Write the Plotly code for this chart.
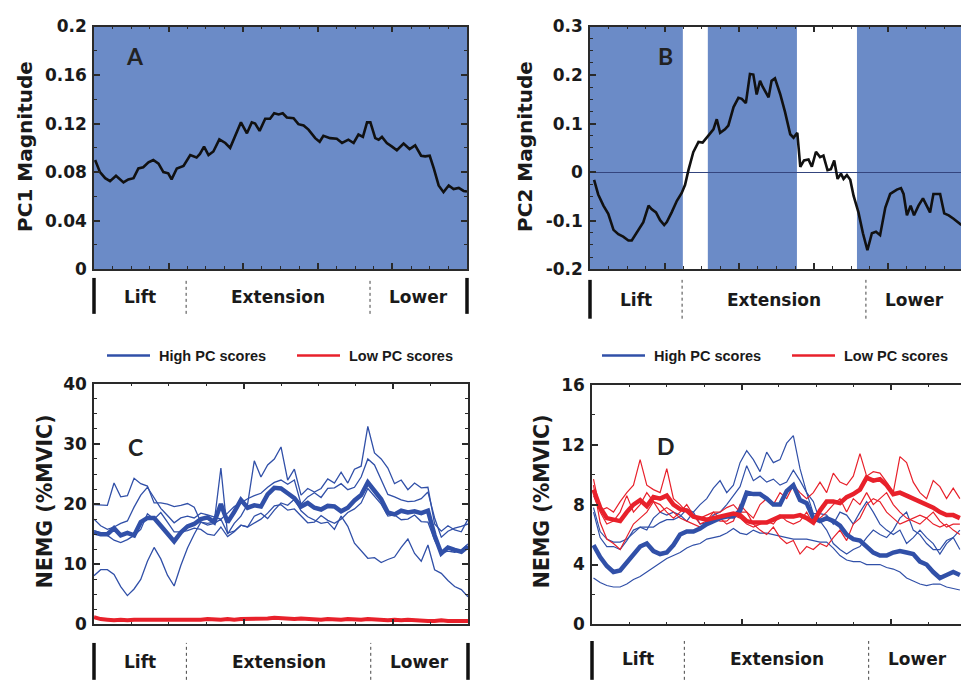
import numpy as np
import plotly.graph_objects as go

# ---------------- data ----------------
# Panel A: PC1 magnitude vs % of lifting cycle
A_X = [0.3, 1.6, 3.0, 4.3, 5.9, 7.9, 9.2, 10.6, 11.9, 13.2, 14.6, 15.9, 17.3, 18.6, 19.9, 20.8, 22.2, 24.0, 25.8, 27.5,
       28.4, 29.5, 30.7, 32.0, 33.6, 35.2, 36.5, 37.8, 39.4, 41.0, 42.3, 43.2, 44.4, 45.9, 47.2, 48.3, 49.5, 50.6, 51.7, 53.5,
       54.8, 56.2, 57.5, 59.3, 60.5, 61.5, 63.3, 65.1, 66.5, 68.2, 69.6, 70.9, 72.1, 73.2, 74.1, 75.4, 76.3, 77.2, 78.5, 79.9,
       81.2, 83.0, 84.6, 86.1, 87.7, 88.8, 90.0, 91.1, 92.4, 93.7, 95.1, 96.4, 97.8, 99.1, 100]
A_Y = [0.090, 0.080, 0.075, 0.0725, 0.077, 0.0715, 0.074, 0.075, 0.083, 0.084, 0.088, 0.090, 0.087, 0.080, 0.079, 0.074, 0.083, 0.085, 0.094, 0.092,
       0.095, 0.101, 0.094, 0.097, 0.107, 0.104, 0.100, 0.109, 0.121, 0.112, 0.121, 0.120, 0.114, 0.124, 0.124, 0.1285, 0.1275, 0.1285, 0.125, 0.1245,
       0.1195, 0.1185, 0.115, 0.108, 0.105, 0.110, 0.108, 0.1075, 0.104, 0.1067, 0.104, 0.111, 0.109, 0.121, 0.121, 0.108, 0.1067, 0.109, 0.104, 0.101,
       0.098, 0.1035, 0.099, 0.102, 0.0935, 0.093, 0.0935, 0.083, 0.069, 0.0635, 0.069, 0.066, 0.067, 0.0645, 0.064]

# Panel B: PC2 magnitude
B_X = [1.1, 2.2, 3.6, 4.9, 6.3, 7.6, 8.9, 10.3, 11.2, 12.5, 14.3, 15.7, 16.5, 17.7, 18.8, 19.9, 20.6, 21.9, 23.3, 24.6,
       25.5, 26.4, 27.7, 29.1, 30.2, 31.3, 32.2, 33.1, 34.0, 34.9, 36.2, 37.1, 38.5, 39.8, 40.7, 41.8, 42.9, 43.8, 44.7, 45.6,
       46.3, 47.9, 48.7, 49.6, 51.0, 52.3, 53.7, 54.6, 55.6, 56.4, 57.4, 58.6, 59.5, 60.6, 61.7, 62.6, 63.7, 64.6, 65.5, 66.4,
       67.3, 68.0, 68.9, 69.8, 70.7, 72.0, 73.2, 74.4, 75.6, 76.7, 77.8, 79.2, 80.5, 82.3, 83.4, 84.1, 85.0, 86.0, 86.9, 88.1,
       89.3, 90.2, 91.2, 92.1, 93.9, 95.0, 96.2, 97.5, 99.6]
B_Y = [-0.016, -0.046, -0.069, -0.086, -0.119, -0.128, -0.133, -0.141, -0.141, -0.126, -0.103, -0.069, -0.076, -0.083, -0.099, -0.109, -0.103, -0.083, -0.059, -0.043,
       -0.026, 0.004, 0.041, 0.062, 0.061, 0.071, 0.080, 0.088, 0.109, 0.081, 0.088, 0.096, 0.134, 0.153, 0.151, 0.142, 0.202, 0.201, 0.160, 0.188,
       0.176, 0.154, 0.188, 0.193, 0.161, 0.124, 0.078, 0.071, 0.081, 0.011, 0.024, 0.026, 0.011, 0.042, 0.031, 0.034, 0.004, 0.006, 0.024, -0.014,
       -0.003, -0.014, -0.006, -0.016, -0.049, -0.083, -0.126, -0.161, -0.126, -0.123, -0.130, -0.073, -0.045, -0.036, -0.033, -0.045, -0.089, -0.069, -0.089, -0.069,
       -0.054, -0.069, -0.083, -0.045, -0.045, -0.085, -0.089, -0.096, -0.109]
B_WHITE_BANDS = [(24.9, 31.6), (55.5, 71.6)]

# Panel C: NEMG (%MVIC), samples evenly spaced over 0-100 % of cycle
C_MEAN_HIGH = [15.3, 15.0, 15.0, 16.0, 14.8, 15.2, 14.8, 17.0, 17.7, 17.7, 16.4, 15.1, 13.8, 15.3, 16.3, 16.7, 17.5, 17.8, 17.0, 20.0,
               17.0, 18.7, 20.7, 19.4, 19.8, 19.6, 21.6, 22.7, 22.6, 21.8, 21.0, 19.6, 20.2, 19.4, 19.1, 19.7, 19.6, 18.8, 19.4, 20.6,
               21.5, 23.6, 22.2, 20.8, 18.6, 18.3, 18.9, 18.6, 18.8, 18.5, 18.9, 14.8, 11.8, 12.8, 12.4, 12.1, 13.0]
C_HIGH_1 = [19.9, 19.8, 19.8, 23.5, 21.2, 21.4, 24.3, 23.4, 23.0, 20.2, 20.2, 20.0, 19.6, 19.8, 20.1, 19.5, 17.0, 16.8, 17.0, 26.0,
            15.0, 16.8, 18.0, 20.0, 27.2, 24.5, 26.5, 27.5, 29.5, 24.0, 25.8, 21.5, 22.6, 22.0, 22.6, 24.2, 23.5, 25.3, 23.5, 25.8,
            26.3, 32.9, 28.5, 27.5, 26.0, 23.4, 24.0, 22.4, 23.5, 22.7, 22.8, 16.7, 15.5, 16.4, 15.7, 15.4, 17.5]
C_HIGH_2 = [8.1, 9.1, 9.1, 8.3, 6.3, 4.8, 5.9, 7.5, 10.5, 12.8, 10.9, 8.2, 6.4, 9.8, 12.7, 15.0, 17.0, 16.5, 16.8, 17.5,
            15.2, 15.5, 16.5, 16.2, 18.0, 18.5, 17.6, 19.0, 20.2, 19.8, 20.8, 18.9, 17.9, 17.3, 16.8, 17.0, 15.8, 18.0, 16.3, 13.5,
            12.2, 11.0, 11.1, 10.3, 10.8, 11.2, 12.8, 14.2, 11.8, 10.5, 13.2, 9.1, 8.5, 7.3, 6.3, 5.8, 4.6]
C_HIGH_3 = [17.5, 16.4, 15.8, 16.2, 16.8, 17.2, 19.5, 21.5, 22.8, 21.0, 19.3, 18.1, 16.9, 17.7, 18.0, 17.7, 18.5, 18.2, 17.8, 17.5,
            18.5, 19.6, 20.2, 20.9, 21.4, 21.8, 22.8, 23.6, 24.0, 23.3, 24.0, 20.0, 21.2, 21.9, 21.1, 22.6, 22.7, 23.4, 22.4, 22.8,
            24.5, 27.5, 26.5, 24.0, 21.6, 21.2, 20.7, 20.4, 20.5, 20.9, 22.0, 17.7, 14.5, 15.5, 16.0, 16.3, 16.7]
C_HIGH_4 = [15.6, 15.2, 14.8, 14.0, 13.6, 14.1, 14.8, 15.8, 18.4, 17.5, 18.6, 17.0, 15.4, 15.4, 15.6, 16.0, 15.8, 15.0, 14.8, 16.2,
            14.6, 15.4, 16.5, 16.2, 16.8, 17.5, 18.5, 19.7, 19.9, 19.0, 19.2, 18.0, 16.9, 17.0, 18.1, 17.3, 16.8, 17.5, 18.6, 19.2,
            20.2, 22.6, 21.3, 20.0, 18.0, 18.2, 17.4, 17.5, 18.2, 17.1, 17.0, 14.0, 11.9, 12.2, 12.0, 12.3, 13.4]
C_LOW = [1.2, 0.9, 0.8, 0.7, 0.8, 0.7, 0.8, 0.8, 0.7, 0.8, 0.7, 0.8, 0.7, 0.8, 0.8, 0.7, 0.8, 0.9, 0.8, 0.8,
         0.9, 0.8, 0.9, 0.9, 1.0, 0.9, 1.0, 1.1, 1.0, 1.0, 0.9, 1.0, 0.9, 0.9, 0.8, 0.9, 0.8, 0.8, 0.9, 0.8,
         0.8, 0.9, 0.8, 0.8, 0.7, 0.8, 0.7, 0.8, 0.7, 0.7, 0.6, 0.6, 0.7, 0.6, 0.6, 0.7, 0.6]

# Panel D: NEMG (%MVIC), samples evenly spaced over 0.4-98.4 % of cycle
D_MEAN_HIGH = [5.3, 4.5, 3.9, 3.5, 3.6, 4.1, 4.7, 5.2, 5.4, 4.9, 4.7, 4.8, 5.3, 6.0, 6.2, 6.2, 6.4, 6.7, 6.9, 7.1,
               7.2, 7.2, 7.6, 8.8, 8.7, 8.7, 8.4, 8.0, 8.0, 8.9, 9.3, 8.3, 8.1, 7.1, 6.9, 7.1, 6.9, 6.6, 6.0, 5.7,
               5.6, 5.2, 4.8, 4.6, 4.6, 4.8, 4.9, 4.8, 4.7, 4.2, 4.0, 3.5, 3.1, 3.3, 3.5, 3.3]
D_MEAN_LOW = [9.0, 7.8, 7.1, 7.0, 6.9, 7.5, 8.0, 8.3, 7.9, 8.5, 8.4, 8.6, 8.0, 7.7, 7.6, 7.2, 7.1, 7.0, 7.1, 7.2,
              7.3, 7.4, 7.3, 6.9, 6.8, 6.8, 6.8, 7.0, 7.2, 7.2, 7.2, 7.3, 7.1, 6.8, 7.6, 8.2, 8.2, 8.1, 8.5, 8.7,
              9.0, 9.8, 9.6, 9.7, 9.3, 8.7, 8.8, 8.6, 8.4, 8.2, 8.0, 7.8, 7.5, 7.3, 7.3, 7.1]
D_HIGH_1 = [7.5, 5.8, 5.2, 5.2, 5.0, 5.6, 6.3, 6.5, 6.3, 7.1, 7.5, 7.3, 7.5, 7.3, 6.9, 7.5, 8.0, 8.4, 9.1, 9.6,
            8.8, 9.3, 10.8, 11.6, 11.0, 10.2, 11.5, 10.8, 11.0, 12.1, 12.6, 10.4, 8.8, 7.4, 7.4, 7.3, 6.7, 7.5, 7.3, 6.7,
            7.5, 8.2, 7.5, 6.7, 6.3, 6.0, 6.3, 5.4, 5.8, 6.3, 5.8, 5.4, 4.7, 5.4, 5.8, 5.0]
D_HIGH_2 = [3.1, 2.8, 2.6, 2.5, 2.5, 2.7, 3.0, 3.2, 3.5, 3.8, 4.1, 4.4, 4.6, 4.8, 5.1, 5.3, 5.4, 5.7, 5.8, 5.9,
            6.1, 6.4, 6.1, 6.0, 6.3, 6.1, 6.1, 6.0, 5.9, 5.8, 5.7, 5.7, 5.7, 5.6, 5.5, 5.5, 5.1, 4.6, 4.3, 4.2,
            4.2, 4.0, 4.0, 4.0, 3.8, 3.7, 3.5, 3.1, 2.9, 2.7, 2.6, 2.7, 2.7, 2.5, 2.4, 2.3]
D_HIGH_3 = [7.8, 6.2, 5.7, 5.5, 5.5, 5.7, 6.1, 6.5, 6.5, 6.5, 6.8, 7.0, 7.0, 7.2, 7.7, 7.5, 6.7, 6.8, 7.3, 7.5,
            8.0, 8.6, 9.2, 10.6, 9.6, 9.9, 9.5, 9.7, 9.3, 9.5, 10.3, 9.6, 8.8, 8.2, 6.9, 6.3, 5.4, 5.0, 4.7, 5.0,
            5.2, 5.8, 6.3, 6.0, 5.8, 6.3, 7.1, 7.5, 6.3, 6.0, 5.4, 5.0, 5.0, 5.6, 5.8, 6.3]
D_LOW_1 = [9.7, 7.6, 7.8, 7.5, 8.2, 8.8, 9.3, 11.0, 9.3, 9.0, 8.8, 10.4, 8.4, 8.0, 7.5, 7.3, 7.1, 7.3, 7.5, 7.5,
           7.8, 8.0, 7.5, 7.5, 7.1, 8.0, 8.4, 8.0, 8.8, 8.4, 9.3, 8.8, 8.4, 8.8, 9.5, 8.8, 10.1, 9.5, 9.3, 9.9,
           11.4, 9.9, 10.2, 10.1, 9.5, 8.8, 11.2, 10.8, 9.5, 8.8, 8.4, 9.6, 9.2, 8.4, 9.1, 8.4]
D_LOW_2 = [9.3, 6.8, 5.7, 5.4, 5.0, 5.8, 6.7, 7.1, 7.5, 8.2, 8.0, 7.5, 7.1, 7.5, 8.0, 7.3, 6.7, 6.9, 7.5, 7.1,
           6.7, 6.9, 8.0, 7.5, 6.7, 6.3, 6.0, 6.5, 5.8, 5.4, 5.6, 4.7, 5.2, 5.0, 5.4, 5.2, 5.8, 6.3, 5.6, 6.7,
           7.1, 8.0, 8.4, 8.2, 7.5, 7.1, 6.7, 6.9, 7.1, 7.3, 7.1, 6.7, 6.5, 6.7, 6.3, 6.0]
D_LOW_3 = [8.6, 7.5, 6.7, 6.9, 7.5, 8.6, 7.5, 8.0, 8.8, 8.2, 7.5, 7.8, 7.5, 7.1, 6.9, 6.7, 6.5, 6.7, 7.1, 6.9,
           6.9, 7.3, 7.1, 6.7, 6.5, 6.7, 6.9, 6.7, 7.3, 6.9, 6.7, 6.9, 7.5, 6.7, 7.1, 7.5, 8.0, 8.4, 7.5, 8.4,
           8.0, 8.8, 8.0, 8.4, 8.8, 8.0, 7.5, 7.1, 6.9, 6.7, 7.1, 7.5, 6.9, 6.5, 6.7, 6.7]

PHASE_BOUNDS = [24.7, 74.0]
PHASE_LABELS = ["Lift", "Extension", "Lower"]
B_TICKS = [-0.2, -0.1, 0, 0.1, 0.2, 0.3]
B_TICK_TEXT = ["-0.2", "-0.1", "0", "0.1", "0.2", "0.3"]

# ---------------- styling ----------------
W, H = 961, 684
BLUE = "#3150a8"
RED = "#e8212b"
FILL = "#6b8bc7"
AXC = "#2a2a2a"
FONT = "DejaVu Sans"


def fx(px):
    return px / W


def fy(py):
    return 1 - py / H


C_X = np.linspace(0, 100, len(C_MEAN_HIGH))
D_X = np.linspace(0.4, 98.4, len(D_MEAN_HIGH))

fig = go.Figure()

# Panel A
fig.add_trace(go.Scatter(x=A_X, y=A_Y, mode="lines", line=dict(color="#111", width=2.6),
                         xaxis="x", yaxis="y", showlegend=False))
# Panel B
fig.add_trace(go.Scatter(x=B_X, y=B_Y, mode="lines", line=dict(color="#111", width=2.6),
                         xaxis="x2", yaxis="y2", showlegend=False))
# Panel C
for s in [C_HIGH_1, C_HIGH_2, C_HIGH_3, C_HIGH_4]:
    fig.add_trace(go.Scatter(x=C_X, y=s, mode="lines", line=dict(color=BLUE, width=1.3),
                             xaxis="x3", yaxis="y3", showlegend=False))
fig.add_trace(go.Scatter(x=C_X, y=C_MEAN_HIGH, mode="lines", line=dict(color=BLUE, width=4.5),
                         xaxis="x3", yaxis="y3", showlegend=False))
fig.add_trace(go.Scatter(x=C_X, y=C_LOW, mode="lines", line=dict(color=RED, width=4),
                         xaxis="x3", yaxis="y3", showlegend=False))
# Panel D
for s in [D_HIGH_1, D_HIGH_2, D_HIGH_3]:
    fig.add_trace(go.Scatter(x=D_X, y=s, mode="lines", line=dict(color=BLUE, width=1.2),
                             xaxis="x4", yaxis="y4", showlegend=False))
for s in [D_LOW_1, D_LOW_2, D_LOW_3]:
    fig.add_trace(go.Scatter(x=D_X, y=s, mode="lines", line=dict(color=RED, width=1.2),
                             xaxis="x4", yaxis="y4", showlegend=False))
fig.add_trace(go.Scatter(x=D_X, y=D_MEAN_HIGH, mode="lines", line=dict(color=BLUE, width=4.5),
                         xaxis="x4", yaxis="y4", showlegend=False))
fig.add_trace(go.Scatter(x=D_X, y=D_MEAN_LOW, mode="lines", line=dict(color=RED, width=4.5),
                         xaxis="x4", yaxis="y4", showlegend=False))

tickfont = dict(family=FONT, size=17, color="#1a1a1a", weight="bold")


def xax(domain, rng, dtick, mdtick, anchor):
    return dict(domain=domain, range=rng, anchor=anchor, showgrid=False, zeroline=False,
                showline=True, linecolor=AXC, linewidth=1.5, mirror="allticks",
                ticks="inside", ticklen=6, tickwidth=1.5, tickcolor=AXC,
                tickmode="linear", tick0=0, dtick=dtick, showticklabels=False,
                minor=dict(ticks="inside", ticklen=3, tickwidth=1, tickcolor=AXC, dtick=mdtick, tick0=0))


def yax(domain, rng, anchor, mirror, **kw):
    d = dict(domain=domain, range=rng, anchor=anchor, showgrid=False, zeroline=False,
             showline=True, linecolor=AXC, linewidth=1.5, mirror=mirror,
             ticks="inside", ticklen=6, tickwidth=1.5, tickcolor=AXC,
             tickfont=tickfont, ticklabelstandoff=2)
    d.update(kw)
    return d


ydomAB = [fy(267), fy(17)]
ydomC = [fy(633), fy(385)]
ydomD = [fy(633), fy(386)]

fig.update_layout(
    width=W, height=H, margin=dict(l=0, r=0, t=0, b=0),
    paper_bgcolor="white", plot_bgcolor="white",
    xaxis=xax([fx(94), fx(467)], [0, 100], 20, 5, "y"),
    yaxis=yax(ydomAB, [0, 0.2], "x", "allticks", tickmode="linear", tick0=0, dtick=0.04,
              minor=dict(ticks="inside", ticklen=3, tickwidth=1, tickcolor=AXC, dtick=0.02, tick0=0)),
    xaxis2=xax([fx(590), 1.0], [0, 99.5], 20, 5, "y2"),
    yaxis2=yax(ydomAB, [-0.2, 0.3], "x2", False, tickmode="array", tickvals=B_TICKS, ticktext=B_TICK_TEXT,
               zeroline=True, zerolinecolor="#34457e", zerolinewidth=1,
               minor=dict(ticks="inside", ticklen=3, tickwidth=1, tickcolor=AXC, tickmode="linear",
                          dtick=0.025, tick0=-0.2)),
    xaxis3=xax([fx(94), fx(468)], [0, 100], 40, 10, "y3"),
    yaxis3=yax(ydomC, [0, 40], "x3", "allticks", tickmode="linear", tick0=0, dtick=10,
               minor=dict(ticks="inside", ticklen=3, tickwidth=1, tickcolor=AXC, dtick=2.5, tick0=0)),
    xaxis4=xax([fx(592), 1.0], [0, 98.7], 40, 10, "y4"),
    yaxis4=yax(ydomD, [0, 16], "x4", False, tickmode="linear", tick0=0, dtick=4,
               minor=dict(ticks="inside", ticklen=3, tickwidth=1, tickcolor=AXC, dtick=2, tick0=0)),
)

shapes = []
# backgrounds
shapes.append(dict(type="rect", xref="x domain", yref="y domain", x0=0, x1=1, y0=0, y1=1,
                   fillcolor=FILL, line=dict(width=0), layer="below"))
shapes.append(dict(type="rect", xref="x2 domain", yref="y2 domain", x0=0, x1=1, y0=0, y1=1,
                   fillcolor=FILL, line=dict(width=0), layer="below"))
for a, b in B_WHITE_BANDS:
    shapes.append(dict(type="rect", xref="x2", yref="y2 domain", x0=a, x1=b, y0=0, y1=1,
                       fillcolor="white", line=dict(width=0), layer="below"))

annotations = []


def phase_row(xa, y_top, y_bot, y_text, right_edge=True):
    shapes.append(dict(type="line", xref=xa + " domain", yref="paper", x0=0, x1=0, y0=fy(y_bot), y1=fy(y_top),
                       line=dict(color="#111", width=3.5)))
    if right_edge:
        shapes.append(dict(type="line", xref=xa + " domain", yref="paper", x0=1, x1=1, y0=fy(y_bot), y1=fy(y_top),
                           line=dict(color="#111", width=3.5)))
    for b in PHASE_BOUNDS:
        shapes.append(dict(type="line", xref=xa, yref="paper", x0=b, x1=b, y0=fy(y_bot), y1=fy(y_top),
                           line=dict(color="#444", width=1, dash="dot")))
    edges = [0] + PHASE_BOUNDS + [100]
    for i, lab in enumerate(PHASE_LABELS):
        annotations.append(dict(xref=xa, yref="paper", x=(edges[i] + edges[i + 1]) / 2, y=fy(y_text),
                                text=lab, showarrow=False, xanchor="center", yanchor="middle",
                                font=dict(family=FONT, size=17, color="#1a1a1a", weight="bold")))


phase_row("x", 276, 313, 296)
phase_row("x2", 278, 318, 299, right_edge=False)
phase_row("x3", 652, 690, 672)
phase_row("x4", 650, 690, 669, right_edge=False)

# y-axis titles
for txt, x, y, sz in [("PC1 Magnitude", 25, 141, 20), ("PC2 Magnitude", 525, 141, 20),
                      ("NEMG (%MVIC)", 45, 506, 20.5), ("NEMG (%MVIC)", 542, 506, 20.5)]:
    annotations.append(dict(xref="paper", yref="paper", x=fx(x), y=fy(y), text=txt, textangle=-90,
                            showarrow=False, xanchor="center", yanchor="middle",
                            font=dict(family=FONT, size=sz, color="#1a1a1a", weight="bold")))

# panel letters
for txt, x, y in [("A", 135, 47), ("B", 665, 47), ("C", 135, 450), ("D", 666, 449)]:
    annotations.append(dict(xref="paper", yref="paper", x=fx(x), y=fy(y), text=txt, showarrow=False,
                            xanchor="center", yanchor="middle",
                            font=dict(family="Lato", size=23, color="#222", weight="bold")))

# legends
for x0, col, txt in [(107, BLUE, "High PC scores"), (297, RED, "Low PC scores"),
                     (602, BLUE, "High PC scores"), (792, RED, "Low PC scores")]:
    shapes.append(dict(type="line", xref="paper", yref="paper", x0=fx(x0), x1=fx(x0 + 43), y0=fy(356), y1=fy(356),
                       line=dict(color=col, width=2.5)))
    annotations.append(dict(xref="paper", yref="paper", x=fx(x0 + 50), y=fy(356), text=txt, showarrow=False,
                            xanchor="left", yanchor="middle",
                            font=dict(family="Liberation Sans", size=14.5, color="#1a1a1a", weight="bold")))

fig.update_layout(shapes=shapes, annotations=annotations)

fig.write_html("out.html")
